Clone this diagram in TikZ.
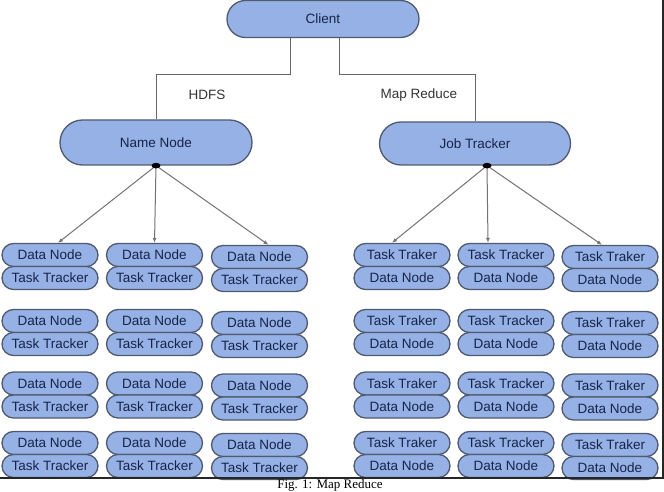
\documentclass[tikz,border=0pt]{standalone}
\usepackage{fontspec}
\setmainfont{Liberation Serif}
\newfontfamily\arialf{Liberation Sans}
\usetikzlibrary{shapes.misc,calc,arrows.meta}
\definecolor{pillfill}{RGB}{150,177,230}
\definecolor{pilldraw}{RGB}{80,90,110}
\definecolor{pilltext}{RGB}{22,36,72}
\begin{document}
\begin{tikzpicture}[x=1pt,y=-1pt,
  pill/.style={rounded rectangle, draw=pilldraw, line width=1.3pt, fill=pillfill,
    text=pilltext, font=\arialf\fontsize{13.5}{15}\selectfont, inner sep=0pt,
    minimum width=96pt, minimum height=23pt},
  bigpill/.style={pill, minimum width=192pt, minimum height=44pt},
  link/.style={draw=black!60, line width=1pt},
  arr/.style={draw=black!55, line width=1pt, -{Latex[length=5pt,width=4pt]}},
  lbl/.style={font=\arialf\fontsize{13.5}{15}\selectfont, text=black!80},
  frame/.style={draw=black!85, line width=1.5pt}]
\useasboundingbox (0,0) rectangle (664,492);
% main nodes
\node[bigpill, minimum height=37pt] (client) at (323,19) {Client};
\node[bigpill, minimum height=45pt] (name) at (156,142.5) {Name Node};
\node[bigpill, minimum width=191pt, minimum height=43pt] (job) at (475,143.5) {Job Tracker};
% client links
\coordinate (cl) at (290,75);
\coordinate (cr) at (339,75);
\draw[link] (client.south -| cl) -- (cl) -| (name.north);
\draw[link] (client.south -| cr) -- (cr) -| (job.north);
\node[lbl] (hdfs) at (207,95) {HDFS};
\node[lbl] (mr) at (419,95) {Map Reduce};
% left grid
\foreach \c/\x/\d in {1/50/0,2/154.5/0,3/259.5/2}{
  \foreach \r/\y in {1/255,2/321,3/383.5,4/443}{
    \node[pill] (L\r\c a) at (\x,\y+\d) {Data Node};
    \node[pill] (L\r\c b) at (\x,\y+\d+23) {Task Tracker};
  }
}
% right grid
\foreach \c/\x/\d/\t in {1/402/0/Task Traker,2/506/0/Task Tracker,3/610/2/Task Traker}{
  \foreach \r/\y in {1/255,2/321,3/383.5,4/443}{
    \node[pill] (R\r\c a) at (\x,\y+\d) {\t};
    \node[pill] (R\r\c b) at (\x,\y+\d+23) {Data Node};
  }
}
% junctions and arrows
\coordinate (jn) at (name.south);
\coordinate (jj) at ($(job.south)+(12,0)$);
\draw[arr] (jn) -- ($(L11a.north)+(8,0)$);
\draw[arr] (jn) -- (L12a.north);
\draw[arr] (jn) -- ($(L13a.north)+(9,0)$);
\draw[arr] (jj) -- ($(R11a.north)+(-10,0)$);
\draw[arr] (jj) -- ($(R12a.north)+(-18,0)$);
\draw[arr] (jj) -- ($(R13a.north)+(-8,0)$);
\fill[black] (jn) ellipse (4.5pt and 2.8pt);
\fill[black] (jj) ellipse (4.5pt and 2.8pt);
% frame
\coordinate (fbl) at (0,478);
\coordinate (fbr) at (663,478);
\coordinate (ftr) at (663,0);
\draw[frame] (fbl) -- (fbr) -- (ftr);
\node[font=\fontsize{13}{14}\selectfont, anchor=base, inner sep=0pt] (cap) at (330,488.5) {Fig. 1: Map Reduce};
\end{tikzpicture}
\end{document}
